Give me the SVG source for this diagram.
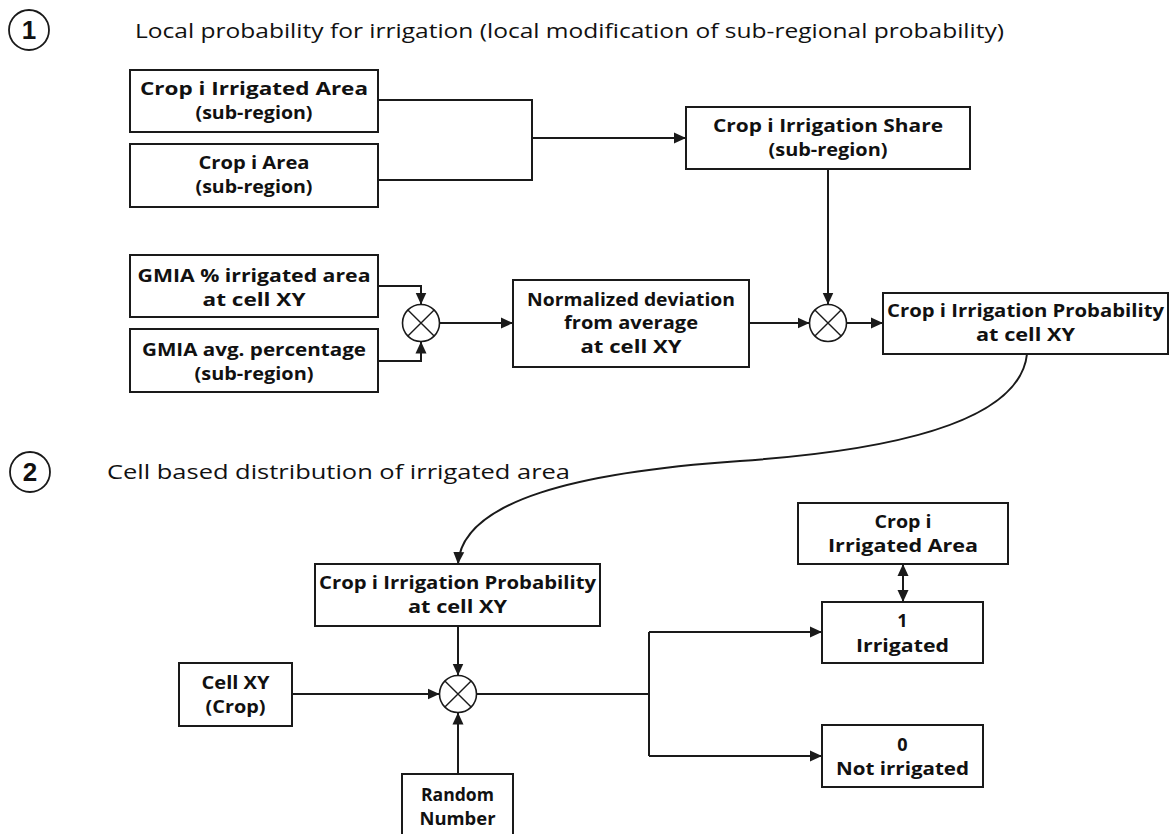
<svg xmlns="http://www.w3.org/2000/svg" width="1171" height="834" viewBox="0 0 1171 834">
<style>
.box{fill:#fff;stroke:#1a1a1a;stroke-width:2}
.lbl{font-family:"Open Sans","Liberation Sans",sans-serif;font-weight:bold;font-size:18px;fill:#111;text-anchor:middle}
.ttl{font-family:"Open Sans","Liberation Sans",sans-serif;font-size:20px;fill:#111}
.num{font-family:"Liberation Sans",Arial,sans-serif;font-weight:bold;font-size:26px;fill:#111;text-anchor:middle}
.ring{fill:none;stroke:#1a1a1a;stroke-width:1.8}
.ln{fill:none;stroke:#1a1a1a;stroke-width:2}
.arr{fill:none;stroke:#1a1a1a;stroke-width:2;marker-end:url(#ah)}
.mul{fill:#fff;stroke:#1a1a1a;stroke-width:1.6}
</style>
<defs>
<marker id="ah" viewBox="0 0 12 12" refX="12" refY="6" markerWidth="12" markerHeight="12" markerUnits="userSpaceOnUse" orient="auto">
<path d="M0,0.5 L12,6 L0,11.5 Z" fill="#1a1a1a"/>
</marker>
<marker id="ahs" viewBox="0 0 12 12" refX="12" refY="6" markerWidth="12" markerHeight="12" markerUnits="userSpaceOnUse" orient="auto-start-reverse">
<path d="M0,0.5 L12,6 L0,11.5 Z" fill="#1a1a1a"/>
</marker>
</defs>
<rect width="1171" height="834" fill="#fff"/>

<g id="section1-title">
<circle class="ring" cx="29" cy="30" r="20"/>
<text class="num" x="29" y="39">1</text>
<text class="ttl" x="135" y="38" textLength="869" lengthAdjust="spacingAndGlyphs">Local probability for irrigation (local modification of sub-regional probability)</text>
</g>
<g id="section2-title">
<circle class="ring" cx="30" cy="472" r="20"/>
<text class="num" x="30" y="481">2</text>
<text class="ttl" x="107" y="479" textLength="463" lengthAdjust="spacingAndGlyphs">Cell based distribution of irrigated area</text>
</g>

<g id="connectors">
<path class="ln" d="M378,100 H532 V180 H378"/>
<path class="arr" d="M532,138 H686"/>
<path class="arr" d="M828,169 V304.5"/>
<path class="arr" d="M378,286 H421 V304.5"/>
<path class="arr" d="M378,361 H421 V341.5"/>
<path class="arr" d="M439.5,323 H513"/>
<path class="arr" d="M749,323 H809.5"/>
<path class="arr" d="M846.5,323 H883"/>
<path class="arr" d="M1027,354 C1020,420 900,450 740,461 C580,472 462,500 458,564"/>
<path class="arr" d="M458,626 V675.5"/>
<path class="arr" d="M292,694 H439.5"/>
<path class="arr" d="M458,774 V712.5"/>
<path class="ln" d="M476.5,694 H649 M649,632 V756"/>
<path class="arr" d="M649,632 H822"/>
<path class="arr" d="M649,756 H822"/>
<path class="ln" d="M903,564 V602" marker-start="url(#ahs)" marker-end="url(#ahs)"/>
</g>

<g id="irrigated-area-subregion">
<rect class="box" x="130" y="70" width="248" height="62"/>
<text class="lbl" x="254" y="95" textLength="228" lengthAdjust="spacingAndGlyphs">Crop i Irrigated Area</text>
<text class="lbl" x="254" y="119" textLength="117" lengthAdjust="spacingAndGlyphs">(sub-region)</text>
</g>
<g id="area-subregion">
<rect class="box" x="130" y="144" width="248" height="63"/>
<text class="lbl" x="254" y="169" textLength="111" lengthAdjust="spacingAndGlyphs">Crop i Area</text>
<text class="lbl" x="254" y="193" textLength="117" lengthAdjust="spacingAndGlyphs">(sub-region)</text>
</g>
<g id="irrigation-share">
<rect class="box" x="686" y="107" width="284" height="62"/>
<text class="lbl" x="828" y="132" textLength="230" lengthAdjust="spacingAndGlyphs">Crop i Irrigation Share</text>
<text class="lbl" x="828" y="156" textLength="119" lengthAdjust="spacingAndGlyphs">(sub-region)</text>
</g>
<g id="gmia-cell">
<rect class="box" x="130" y="255" width="248" height="62"/>
<text class="lbl" x="254" y="282" textLength="233" lengthAdjust="spacingAndGlyphs">GMIA % irrigated area</text>
<text class="lbl" x="254" y="306" textLength="103" lengthAdjust="spacingAndGlyphs">at cell XY</text>
</g>
<g id="gmia-avg">
<rect class="box" x="130" y="329" width="248" height="63"/>
<text class="lbl" x="254" y="356" textLength="224" lengthAdjust="spacingAndGlyphs">GMIA avg. percentage</text>
<text class="lbl" x="254" y="380" textLength="119" lengthAdjust="spacingAndGlyphs">(sub-region)</text>
</g>
<g id="mult-1">
<circle class="mul" cx="421" cy="323" r="18.5"/>
<path class="ln" style="stroke-width:1.4" d="M407.9,309.9 L434.1,336.1 M434.1,309.9 L407.9,336.1"/>
</g>
<g id="normalized-deviation">
<rect class="box" x="513" y="280" width="236" height="87"/>
<text class="lbl" x="631" y="306" textLength="208" lengthAdjust="spacingAndGlyphs">Normalized deviation</text>
<text class="lbl" x="631" y="329" textLength="134" lengthAdjust="spacingAndGlyphs">from average</text>
<text class="lbl" x="631" y="353" textLength="101" lengthAdjust="spacingAndGlyphs">at cell XY</text>
</g>
<g id="mult-2">
<circle class="mul" cx="828" cy="323" r="18.5"/>
<path class="ln" style="stroke-width:1.4" d="M814.9,309.9 L841.1,336.1 M841.1,309.9 L814.9,336.1"/>
</g>
<g id="irrigation-probability-1">
<rect class="box" x="883" y="293" width="285" height="61"/>
<text class="lbl" x="1025.5" y="317" textLength="277" lengthAdjust="spacingAndGlyphs">Crop i Irrigation Probability</text>
<text class="lbl" x="1025.5" y="341" textLength="99" lengthAdjust="spacingAndGlyphs">at cell XY</text>
</g>

<g id="irrigation-probability-2">
<rect class="box" x="315" y="564" width="285" height="62"/>
<text class="lbl" x="457.5" y="589" textLength="277" lengthAdjust="spacingAndGlyphs">Crop i Irrigation Probability</text>
<text class="lbl" x="457.5" y="613" textLength="99" lengthAdjust="spacingAndGlyphs">at cell XY</text>
</g>
<g id="cell-xy">
<rect class="box" x="179" y="663" width="113" height="63"/>
<text class="lbl" x="235.5" y="689" textLength="68" lengthAdjust="spacingAndGlyphs">Cell XY</text>
<text class="lbl" x="235.5" y="713" textLength="60" lengthAdjust="spacingAndGlyphs">(Crop)</text>
</g>
<g id="mult-3">
<circle class="mul" cx="458" cy="694" r="18.5"/>
<path class="ln" style="stroke-width:1.4" d="M444.9,680.9 L471.1,707.1 M471.1,680.9 L444.9,707.1"/>
</g>
<g id="random-number">
<rect class="box" x="402" y="774" width="111" height="80"/>
<text class="lbl" x="457.5" y="801" textLength="73" lengthAdjust="spacingAndGlyphs">Random</text>
<text class="lbl" x="457.5" y="825" textLength="76" lengthAdjust="spacingAndGlyphs">Number</text>
</g>
<g id="irrigated-area">
<rect class="box" x="798" y="503" width="210" height="61"/>
<text class="lbl" x="903" y="528" textLength="57" lengthAdjust="spacingAndGlyphs">Crop i</text>
<text class="lbl" x="903" y="552" textLength="150" lengthAdjust="spacingAndGlyphs">Irrigated Area</text>
</g>
<g id="irrigated">
<rect class="box" x="822" y="602" width="161" height="61"/>
<text class="lbl" x="902.5" y="627">1</text>
<text class="lbl" x="902.5" y="652" textLength="93" lengthAdjust="spacingAndGlyphs">Irrigated</text>
</g>
<g id="not-irrigated">
<rect class="box" x="822" y="725" width="161" height="62"/>
<text class="lbl" x="902.5" y="751">0</text>
<text class="lbl" x="902.5" y="775" textLength="133" lengthAdjust="spacingAndGlyphs">Not irrigated</text>
</g>
</svg>
